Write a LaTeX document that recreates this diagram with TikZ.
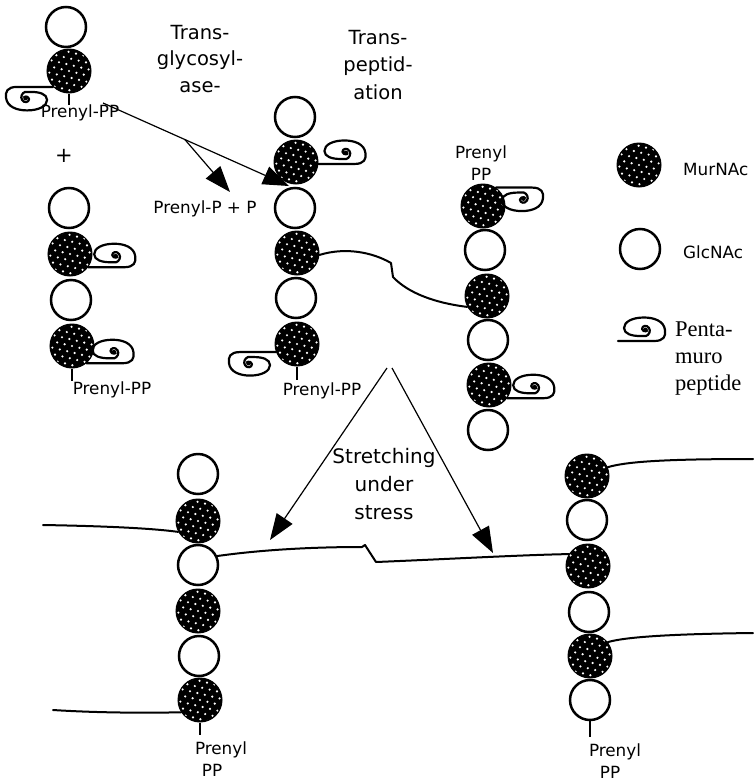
\documentclass[tikz,border=0pt]{standalone}
\usepackage{fontspec}
\setsansfont{DejaVu Sans}
\newfontfamily\legserif{Liberation Serif}
\usetikzlibrary{arrows.meta,calc}
\begin{document}
\begin{tikzpicture}[x=1pt,y=-1pt,
  glc/.style={circle,draw=black,line width=2.5pt,fill=white,minimum size=40pt,inner sep=0pt},
  mur/.style={circle,draw=black,fill=black,line width=1pt,minimum size=44pt,inner sep=0pt,
    path picture={\begin{scope}[shift={(path picture bounding box.center)}]
      \foreach \i in {-4,...,4}{\foreach \j in {-4,...,4}{\fill[white] ({\i*7.4+\j*2.6},{\j*7+\i*1.8}) circle (1.2);}}
    \end{scope}}},
  lbl/.style={font=\fontsize{16.8}{22}\selectfont\sffamily,inner sep=0pt,align=center},
  lbltwo/.style={font=\fontsize{16.8}{22.5}\selectfont\sffamily,inner sep=0pt,align=center},
  big/.style={font=\fontsize{19.5}{26.5}\selectfont\sffamily,inner sep=0pt,align=center},
  poly/.style={line width=2pt,line cap=round,line join=round},
  thinln/.style={line width=1.2pt},
  arr/.style={thinln,-{Triangle[length=26pt,width=19pt]}},
  tickln/.style={line width=1.5pt},
  pep/.pic={
    \draw[line width=2.2pt,line join=round,line cap=round] (0,0) -- (36,0) .. controls (46,0) and (48,-5) .. (47,-11) .. controls (46,-20) and (36,-23.5) .. (26,-23.5) .. controls (14,-23.5) and (6,-19) .. (6,-13) .. controls (6,-7) and (14,-5) .. (22,-5) -- (28,-5) .. controls (31,-6) and (33,-10) .. (31,-13) .. controls (29,-16.5) and (24,-15.5) .. (24,-12) .. controls (24,-10) and (27,-9) .. (29,-10);
    \fill (27.5,-11) circle (2.4);
  }
]
\useasboundingbox (0,0) rectangle (753,782);
% chain A
\node[glc] (a1) at (66,27) {};
\node[mur] (a2) at (69,71) {};
% chain B
\node[glc] (b1) at (69,208) {};
\node[mur] (b2) at (70,254) {};
\node[glc] (b3) at (71,300) {};
\node[mur] (b4) at (72,346) {};
% chain C
\node[glc] (c1) at (295,117) {};
\node[mur] (c2) at (296,162) {};
\node[glc] (c3) at (295,208) {};
\node[mur] (c4) at (297,253) {};
\node[glc] (c5) at (296,298) {};
\node[mur] (c6) at (297,344) {};
% chain D
\node[mur] (d1) at (483,206) {};
\node[glc] (d2) at (485,250) {};
\node[mur] (d3) at (487,296) {};
\node[glc] (d4) at (488,340) {};
\node[mur] (d5) at (489,385) {};
\node[glc] (d6) at (488,430) {};
% chain E (bottom left)
\node[glc] (e1) at (198,474) {};
\node[mur] (e2) at (198,521) {};
\node[glc] (e3) at (198,565) {};
\node[mur] (e4) at (198,611) {};
\node[glc] (e5) at (199,656) {};
\node[mur] (e6) at (200,700) {};
% chain F (bottom right)
\node[mur] (f1) at (587,476) {};
\node[glc] (f2) at (587,520) {};
\node[mur] (f3) at (588,566) {};
\node[glc] (f4) at (589,612) {};
\node[mur] (f5) at (590,656) {};
\node[glc] (f6) at (590,700) {};
% legend
\node[mur] (lm) at (639,165) {};
\node[glc] (lg) at (640,249) {};
\node[lbl,anchor=west] (lmt) at (683,169) {MurNAc};
\node[lbl,anchor=west] (lgt) at (683,252) {GlcNAc};
\pic at (618,341) {pep};
\node[font=\fontsize{22.5}{27}\selectfont\legserif,inner sep=0pt,align=left,anchor=west] (lpt) at (675,359) {Penta-\\muro\\peptide};
% pentapeptides
\pic[rotate=180] at (a2.225) {pep};
\pic at (b2.-36) {pep};
\pic at (b4.-50) {pep};
\pic at (c2.-5) {pep};
\pic[rotate=180] at (c6.201) {pep};
\pic[yscale=-1] at (d1.55) {pep};
\pic at (d5.-36) {pep};
% ticks and labels
\draw[tickln] (a2.south) -- ++(0,11);
\draw[tickln] (b4.south) -- ++(0,12);
\draw[tickln] (c6.south) -- ++(0,13);
\draw[tickln] (e6.south) -- ++(0,12);
\draw[tickln] (f6.south) -- ++(0,16);
\node[lbl] (pa) at (80,113) {Prenyl-PP};
\node[font=\fontsize{21}{24}\selectfont\sffamily,inner sep=0pt] (plus) at (64,156) {+};
\node[lbl] (pb) at (112,390) {Prenyl-PP};
\node[lbl] (pc) at (322,391) {Prenyl-PP};
\node[lbltwo] (pd) at (481,163) {Prenyl\\PP};
\node[lbltwo] (pe) at (221,759) {Prenyl\\PP\hspace*{18pt}};
\node[lbltwo] (pf) at (615,761) {Prenyl\\PP\hspace*{10pt}};
\node[lbl] (pp) at (205,209) {Prenyl-P + P};
\node[big] (tg) at (200,59) {Trans-\\glycosyl-\\ase-};
\node[big,font=\fontsize{19.5}{27.5}\selectfont\sffamily] (tp) at (378,65) {Trans-\\peptid-\\ation};
\node[font=\fontsize{20}{28}\selectfont\sffamily,inner sep=0pt,align=center] (st) at (384,484) {Stretching\\under\\stress};
% cross-link
\draw[poly] (c4.-5) .. controls (345,247) and (372,252) .. (391,263) -- (393,277) .. controls (408,293) and (435,303) .. (d3.209);
% bottom strands
\coordinate (el1) at (43,525);
\coordinate (el2) at (53,710);
\coordinate (fr1) at (753,459);
\coordinate (fr2) at (753,633);
\draw[poly] (el1) .. controls (100,526) and (150,528) .. (e2.209);
\draw[poly] (el2) .. controls (100,713) and (150,713) .. (e6.213);
\draw[poly] (e3.25) .. controls (260,550) and (310,547) .. (362,547) -- (365,545) -- (376,562) .. controls (450,559) and (520,555) .. (f3.148);
\draw[poly] (f1.23) .. controls (625,462) and (660,459) .. (fr1);
\draw[poly] (f5.38) .. controls (625,637) and (670,634) .. (fr2);
% arrows
\coordinate (g0) at (103,103);
\coordinate (g1) at (289,186);
\coordinate (g2) at ($(g0)!0.44!(g1)$);
\coordinate (g3) at (230,192);
\draw[arr] (g0) -- (g1);
\draw[arr] (g2) -- (g3);
\coordinate (s0) at (387,368);
\coordinate (s1) at (392,368);
\coordinate (s2) at (270,540);
\coordinate (s3) at (493,553);
\draw[arr] (s0) -- (s2);
\draw[arr] (s1) -- (s3);
\end{tikzpicture}
\end{document}
